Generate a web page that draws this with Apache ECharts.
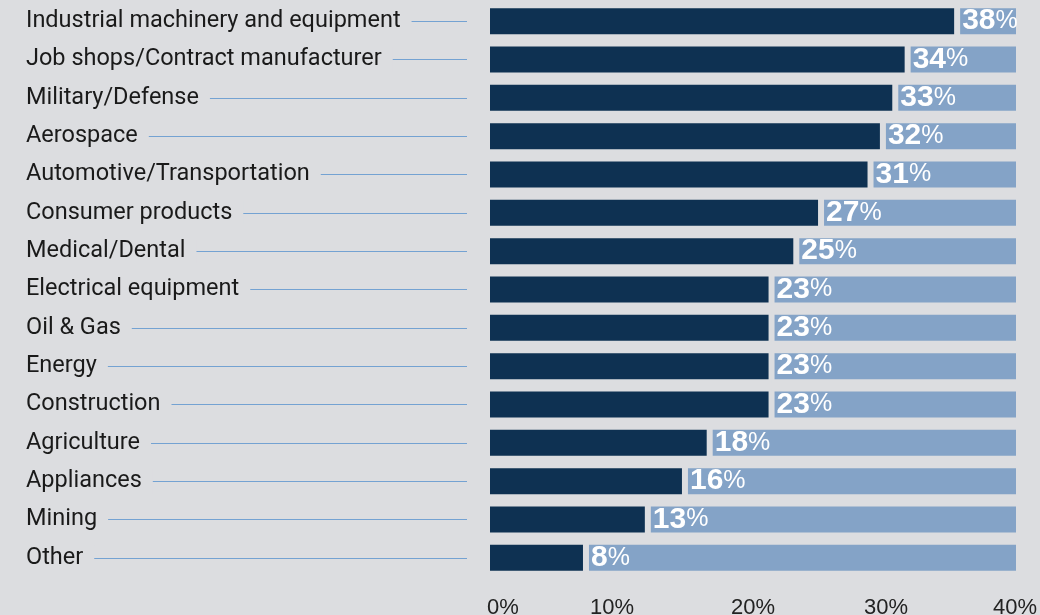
<!DOCTYPE html>
<html>
<head>
<meta charset="utf-8">
<script src="https://cdn.jsdelivr.net/npm/echarts@6/dist/echarts.min.js"></script>
<style>
  html, body { margin: 0; padding: 0; background: #dcdde0; }
  #chart { width: 1040px; height: 615px; }
</style>
</head>
<body>
<div id="chart"></div>
<script>
const categories = [
  'Industrial machinery and equipment',
  'Job shops/Contract manufacturer',
  'Military/Defense',
  'Aerospace',
  'Automotive/Transportation',
  'Consumer products',
  'Medical/Dental',
  'Electrical equipment',
  'Oil & Gas',
  'Energy',
  'Construction',
  'Agriculture',
  'Appliances',
  'Mining',
  'Other'
];
const values = [38, 34, 33, 32, 31, 27, 25, 23, 23, 23, 23, 18, 16, 13, 8];
const tickValues = [0, 10, 20, 30, 40];

const BG = '#dcdde0';
const BAR_MAX = 43; // scale of the full light-blue bar track
const remainder = values.map(v => BAR_MAX - v);

const chart = echarts.init(document.getElementById('chart'), null, { renderer: 'canvas' });

chart.setOption({
  backgroundColor: BG,
  animation: false,
  grid: { left: 487, right: 21, top: 2, bottom: 38, containLabel: false, outerBoundsMode: 'none' },
  xAxis: [
    {
      type: 'value',
      min: tickValues[0],
      max: tickValues[tickValues.length - 1],
      interval: 10,
      axisLine: { show: false },
      axisTick: { show: false },
      splitLine: { show: false },
      axisLabel: {
        margin: 20,
        fontFamily: 'Liberation Sans',
        fontSize: 22,
        color: '#222',
        alignMinLabel: 'left',
        formatter: v => {
          const key = v === 10 ? 'a' : (v === 40 ? 'b' : 't');
          return '{' + key + '|' + v + '%}';
        },
        rich: {
          t: { fontFamily: 'Liberation Sans', fontSize: 22, color: '#222' },
          a: { fontFamily: 'Liberation Sans', fontSize: 22, color: '#222', padding: [0, 16, 0, 0] },
          b: { fontFamily: 'Liberation Sans', fontSize: 22, color: '#222', padding: [0, 8, 0, 0] }
        }
      }
    },
    {
      type: 'value',
      min: 0,
      max: BAR_MAX,
      show: false
    }
  ],
  yAxis: {
    type: 'category',
    data: categories,
    inverse: true,
    axisLine: { show: false },
    splitLine: { show: false },
    axisTick: {
      show: true,
      alignWithLabel: true,
      length: 461,
      lineStyle: { color: '#74a2d2', width: 1.2, type: [441, 20], dashOffset: 441 }
    },
    axisLabel: {
      margin: 461,
      align: 'left',
      fontFamily: 'Roboto',
      fontSize: 23.5,
      color: '#1a1a1a',
      backgroundColor: BG,
      padding: [0, 11, 0, 0]
    }
  },
  series: [
    {
      type: 'bar',
      xAxisIndex: 1,
      stack: 'total',
      data: values,
      barWidth: 32,
      itemStyle: { color: '#0e3152', borderColor: BG, borderWidth: 3 },
      silent: true
    },
    {
      type: 'bar',
      xAxisIndex: 1,
      stack: 'total',
      data: remainder,
      barWidth: 32,
      itemStyle: { color: '#84a3c7', borderColor: BG, borderWidth: 3 },
      silent: true,
      label: {
        show: true,
        position: 'insideLeft',
        distance: 5,
        formatter: p => '{n|' + values[p.dataIndex] + '}{p|%}',
        rich: {
          n: { fontFamily: 'Liberation Sans', fontWeight: 'bold', fontSize: 30, color: '#fff' },
          p: { fontFamily: 'Liberation Sans', fontWeight: 'normal', fontSize: 25, color: '#fff' }
        }
      }
    }
  ]
});
</script>
</body>
</html>
